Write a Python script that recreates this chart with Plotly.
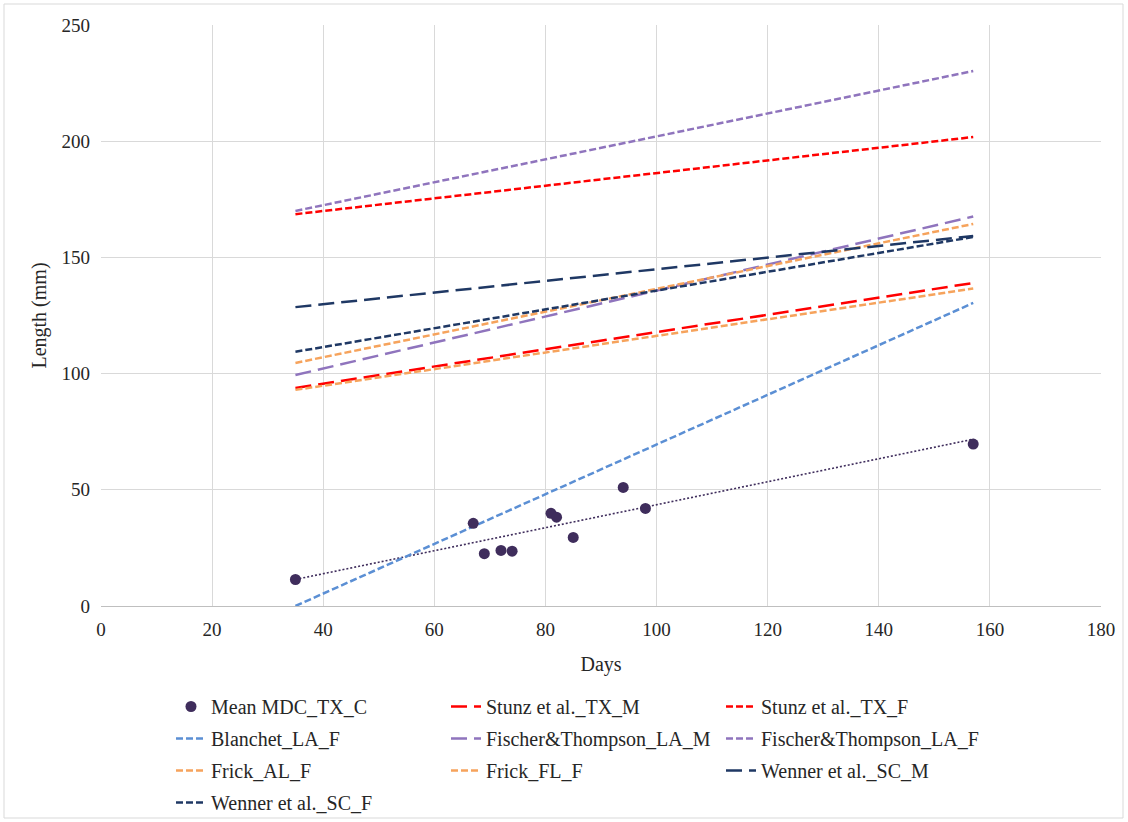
import numpy as np
import plotly.graph_objects as go

# Observed mean lengths
obs_days = [35, 67, 69, 72, 74, 81, 82, 85, 94, 98, 157]
obs_len = [11.4, 35.6, 22.5, 23.9, 23.6, 39.9, 38.2, 29.5, 51.0, 42.0, 69.7]

# Published growth models, evaluated at the first and last sampling day
model_days = [35, 157]
stunz_tx_m = [93.8, 139.0]
stunz_tx_f = [168.6, 201.8]
blanchet_la_f = [0.0, 130.4]
fischer_la_m = [99.4, 167.6]
fischer_la_f = [170.0, 230.2]
frick_al_f = [104.6, 164.4]
frick_fl_f = [93.0, 136.6]
wenner_sc_m = [128.6, 159.2]
wenner_sc_f = [109.4, 158.8]

FONT = "Liberation Serif"
TXT = "#262626"
SHORT = "7px,3px"
LONG = "16px,7px"

RED = "#ff0000"
BLUE = "#5b8fd4"
PURPLE = "#8f74bd"
ORANGE = "#f6a35c"
NAVY = "#1f3864"
DOT = "#3f2d5c"

fig = go.Figure()

# linear trend through the observed means
coef = np.polyfit(obs_days, obs_len, 1)
trend_x = [min(obs_days), max(obs_days)]
trend_y = list(np.polyval(coef, trend_x))
fig.add_trace(go.Scatter(x=trend_x, y=trend_y, mode="lines", showlegend=False,
                         line=dict(color=DOT, width=1.6, dash="2px,2px"),
                         hoverinfo="skip"))

models = [
    ("Stunz et al._TX_M", stunz_tx_m, RED, LONG, "legend2"),
    ("Stunz et al._TX_F", stunz_tx_f, RED, SHORT, "legend3"),
    ("Blanchet_LA_F", blanchet_la_f, BLUE, SHORT, "legend"),
    ("Fischer&Thompson_LA_M", fischer_la_m, PURPLE, LONG, "legend2"),
    ("Fischer&Thompson_LA_F", fischer_la_f, PURPLE, SHORT, "legend3"),
    ("Frick_AL_F", frick_al_f, ORANGE, SHORT, "legend"),
    ("Frick_FL_F", frick_fl_f, ORANGE, SHORT, "legend2"),
    ("Wenner et al._SC_M", wenner_sc_m, NAVY, LONG, "legend3"),
    ("Wenner et al._SC_F", wenner_sc_f, NAVY, SHORT, "legend"),
]

for rank, (name, vals, color, dash, leg) in enumerate(models, start=2):
    fig.add_trace(go.Scatter(x=model_days, y=vals, mode="lines", name=name,
                             line=dict(color=color, width=2.5, dash=dash),
                             legend=leg, legendgroup=name, legendrank=rank))

# observed means drawn on top, listed first in the legend
fig.add_trace(go.Scatter(x=obs_days, y=obs_len, mode="markers", name="Mean MDC_TX_C",
                         marker=dict(color=DOT, size=11), legend="legend",
                         legendgroup="obs", legendrank=1))

def legend_at(px):
    return dict(x=(px - 101) / 1000, y=(606 - 687) / 581, xanchor="left", yanchor="top",
                orientation="v", font=dict(family=FONT, size=20, color=TXT),
                bgcolor="rgba(0,0,0,0)", tracegroupgap=3, traceorder="grouped")

fig.update_layout(
    width=1128, height=822,
    margin=dict(l=101, r=27, t=25, b=216, autoexpand=False),
    paper_bgcolor="white", plot_bgcolor="white",
    font=dict(family=FONT, size=19, color=TXT),
    legend=legend_at(171),
    legend2=legend_at(446),
    legend3=legend_at(721),
    xaxis=dict(range=[0, 180], dtick=20, showgrid=True, gridcolor="#d9d9d9", gridwidth=1,
               zeroline=False, showline=True, linecolor="#bfbfbf", linewidth=1.3,
               ticks="", ticklabelstandoff=6, tickfont=dict(family=FONT, size=19, color=TXT),
               title=dict(text="Days", font=dict(family=FONT, size=20, color=TXT), standoff=18)),
    yaxis=dict(range=[0, 250], dtick=50, showgrid=True, gridcolor="#d9d9d9", gridwidth=1,
               zeroline=False, showline=False, ticks="", ticklabelstandoff=10,
               tickfont=dict(family=FONT, size=19, color=TXT),
               title=dict(text="Length (mm)", font=dict(family=FONT, size=20, color=TXT), standoff=9)),
    shapes=[dict(type="rect", xref="paper", yref="paper",
                 x0=(4 - 101) / 1000, x1=(1123 - 101) / 1000,
                 y0=(606 - 818) / 581, y1=(606 - 4) / 581,
                 line=dict(color="#d9d9d9", width=1), fillcolor="rgba(0,0,0,0)", layer="below")],
)

fig.write_html("out.html")
